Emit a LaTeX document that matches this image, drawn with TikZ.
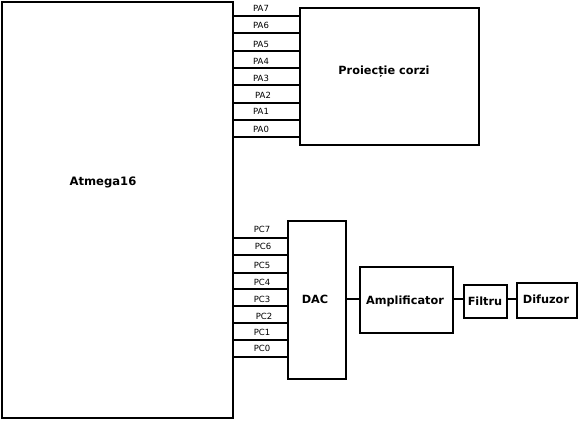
\documentclass[tikz,border=0pt]{standalone}
\usepackage{fontspec}
\setmainfont{DejaVu Sans}
\usetikzlibrary{positioning,calc}

\tikzset{
  blk/.style={draw,line width=1.6pt,inner sep=0pt,font=\bfseries\fontsize{11.3}{13}\selectfont},
  blklbl/.style={font=\bfseries\fontsize{11.3}{13}\selectfont,inner sep=0pt},
  pinlbl/.style={font=\fontsize{8.5}{10}\selectfont,inner sep=0pt},
  wire/.style={line width=1.6pt}
}

\begin{document}
\begin{tikzpicture}[x=1pt,y=-1pt]
\useasboundingbox (0,0) rectangle (578,421);
\node[blk,minimum width=231,minimum height=416,anchor=north west] (atmega) at (1,1) {};
\node[blklbl,font=\bfseries\fontsize{11.6}{13}\selectfont] (atmegalbl) at (103,182) {Atmega16};
\node[blk,minimum width=179,minimum height=137,anchor=north west] (proj) at (299,7) {};
\node[blklbl] (projlbl) at (384,72) {Proiecție corzi};
\node[blk,minimum width=58,minimum height=158,anchor=north west] (dac) at (287,220) {};
\node[blklbl] (daclbl) at (315,299) {DAC};
\node[blk,minimum width=93,minimum height=66,anchor=north west] (amp) at (359,266) {};
\node[blklbl] (amplbl) at (405,301) {Amplificator};
\node[blk,minimum width=43,minimum height=33,anchor=north west] (filtru) at (463,284) {};
\node[blklbl] (filtrulbl) at (485,301) {Filtru};
\node[blk,minimum width=60,minimum height=35,anchor=north west] (difuzor) at (516,282) {};
\node[blklbl] (difuzorlbl) at (546,299) {Difuzor};

% port A
\foreach \n/\y/\ly/\lx in {7/16/8/261,6/33/25/261,5/51/44/261,4/68/61/261,3/85/78/261,2/103/95/263,1/120/111/261,0/137/129/261}{
  \draw[wire] (atmega.east |- 0,\y) -- (proj.west |- 0,\y);
  \node[pinlbl] (pa\n) at (\lx,\ly) {PA\n};
}
% port C
\foreach \n/\y/\ly/\lx in {7/238/229/262,6/255/246/263,5/273/265/262,4/289/282/262,3/306/299/262,2/323/316/264,1/340/332/262,0/357/348/262}{
  \draw[wire] (atmega.east |- 0,\y) -- (dac.west |- 0,\y);
  \node[pinlbl] (pc\n) at (\lx,\ly) {PC\n};
}

\draw[wire] (dac.east |- 0,299) -- (amp.west |- 0,299);
\draw[wire] (amp.east |- 0,299) -- (filtru.west |- 0,299);
\draw[wire] (filtru.east |- 0,299) -- (difuzor.west |- 0,299);
\end{tikzpicture}
\end{document}
